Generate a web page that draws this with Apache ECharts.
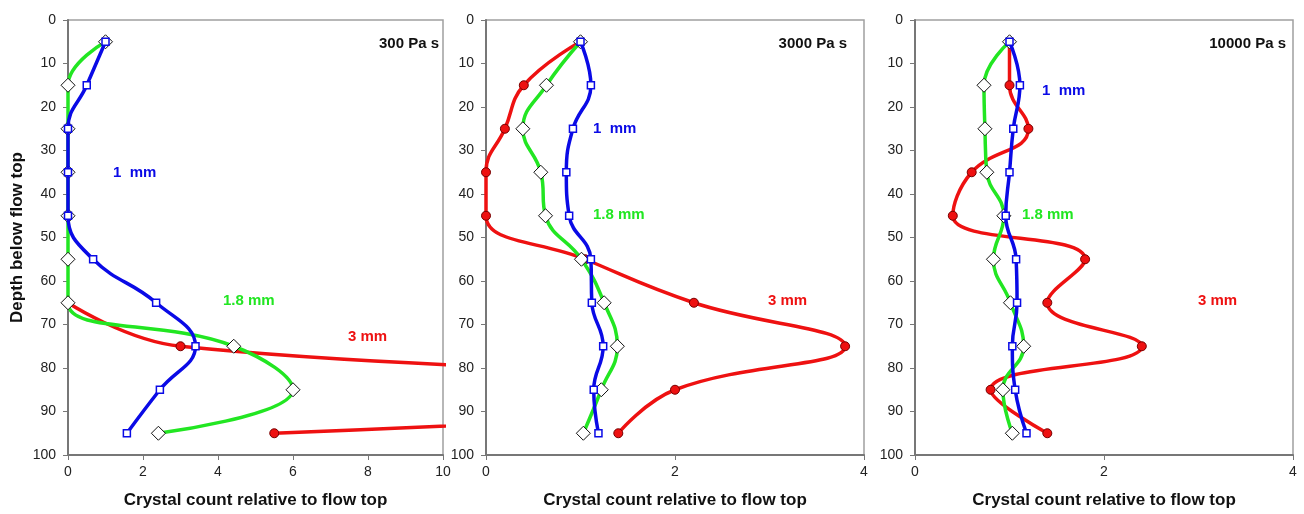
<!DOCTYPE html>
<html>
<head>
<meta charset="utf-8">
<script src="https://cdn.jsdelivr.net/npm/echarts@6/dist/echarts.min.js"></script>
<style>
html,body{margin:0;padding:0;background:#fff;}
#c{width:1304px;height:514px;}
</style>
</head>
<body>
<div id="c"></div>
<script>
// Depths (y) shared by all series
const depths = [5, 15, 25, 35, 45, 55, 65, 75, 85, 95];

// 300 Pa s panel
const p300_1mm  = [1.0, 0.5, 0, 0, 0, 0.67, 2.35, 3.4, 2.45, 1.57];
const p300_18mm = [1.0, 0, 0, 0, 0, 0, 0, 4.42, 6.0, 2.41];
const p300_3mm  = [null, null, null, null, null, null, 0, 3.0, 23, 5.5];

// 3000 Pa s panel
const p3000_1mm  = [1.0, 1.11, 0.92, 0.85, 0.88, 1.11, 1.12, 1.24, 1.14, 1.19];
const p3000_18mm = [1.0, 0.64, 0.39, 0.58, 0.63, 1.01, 1.25, 1.39, 1.22, 1.03];
const p3000_3mm  = [1.0, 0.40, 0.20, 0, 0, 1.05, 2.2, 3.8, 2.0, 1.40];

// 10000 Pa s panel
const p10000_1mm  = [1.0, 1.11, 1.04, 1.0, 0.96, 1.07, 1.08, 1.03, 1.06, 1.18];
const p10000_18mm = [1.0, 0.73, 0.74, 0.76, 0.94, 0.83, 1.01, 1.15, 0.93, 1.03];
const p10000_3mm  = [1.0, 1.0, 1.2, 0.6, 0.4, 1.8, 1.4, 2.4, 0.8, 1.4];

const panelTitles = ['300 Pa s', '3000 Pa s', '10000 Pa s'];
const xMaxes = [10, 4, 4];
const xInterval = 2;
const yMin = 0, yMax = 100, yInterval = 10;
const xAxisName = 'Crystal count relative to flow top';
const yAxisName = 'Depth below flow top';
const sizeLabels = ['1  mm', '1.8 mm', '3 mm'];

const panels = [
  [p300_1mm, p300_18mm, p300_3mm],
  [p3000_1mm, p3000_18mm, p3000_3mm],
  [p10000_1mm, p10000_18mm, p10000_3mm]
];

const BLUE = '#0a0ae6', GREEN = '#22e622', RED = '#ee1111';
const FONT = '"Liberation Sans", Arial, sans-serif';

function pairs(vals) {
  return vals.map((v, i) => (v === null ? null : [v, depths[i]])).filter(p => p !== null);
}

const grids = [
  {left: 68, top: 20, width: 375, height: 435},
  {left: 486, top: 20, width: 378, height: 435},
  {left: 915, top: 20, width: 378, height: 435}
].map(g => Object.assign(g, {show: true, borderColor: '#a0a0a0', borderWidth: 1.5}));

const xAxes = [], yAxes = [], series = [];
for (let p = 0; p < 3; p++) {
  xAxes.push({
    type: 'value', gridIndex: p, min: 0, max: xMaxes[p], interval: xInterval, position: 'bottom',
    axisLine: {show: true, onZero: false, lineStyle: {color: '#777', width: 2}},
    axisTick: {show: true, length: 5, inside: false, lineStyle: {color: '#777'}},
    splitLine: {show: false},
    axisLabel: {color: '#222', fontSize: 14, fontFamily: FONT, margin: 10, showMaxLabel: true},
    name: xAxisName, nameLocation: 'middle', nameGap: 37,
    nameTextStyle: {color: '#111', fontSize: 17, fontWeight: 'bold', fontFamily: FONT}
  });
  yAxes.push({
    type: 'value', gridIndex: p, min: yMin, max: yMax, interval: yInterval, inverse: true, position: 'left',
    axisLine: {show: true, onZero: false, lineStyle: {color: '#777', width: 2}},
    axisTick: {show: true, length: 5, inside: false, lineStyle: {color: '#777'}},
    splitLine: {show: false},
    axisLabel: {color: '#222', fontSize: 14, fontFamily: FONT, margin: 12},
    name: p === 0 ? yAxisName : '', nameLocation: 'middle', nameGap: 42, nameRotate: 90,
    nameTextStyle: {color: '#111', fontSize: 17, fontWeight: 'bold', fontFamily: FONT}
  });
  const [s1, s18, s3] = panels[p];
  series.push({
    type: 'line', xAxisIndex: p, yAxisIndex: p, data: pairs(s3), smooth: 0.45, clip: true,
    lineStyle: {color: RED, width: 3.5},
    symbol: 'circle', symbolSize: 9,
    itemStyle: {color: RED, borderColor: '#700', borderWidth: 1},
    z: 2
  });
  series.push({
    type: 'line', xAxisIndex: p, yAxisIndex: p, data: pairs(s18), smooth: 0.45, clip: true,
    lineStyle: {color: GREEN, width: 3.5},
    symbol: 'diamond', symbolSize: [14, 14],
    itemStyle: {color: '#fff', borderColor: '#111', borderWidth: 1},
    z: 3
  });
  series.push({
    type: 'line', xAxisIndex: p, yAxisIndex: p, data: pairs(s1), smooth: 0.45, clip: true,
    lineStyle: {color: BLUE, width: 3.5},
    symbol: 'rect', symbolSize: 7,
    itemStyle: {color: '#fff', borderColor: BLUE, borderWidth: 1.5},
    z: 4
  });
}

function txt(str, x, y, color, align) {
  return {
    type: 'text', x: x, y: y, z: 100,
    style: {text: str, fill: color, font: 'bold 15px ' + FONT, textAlign: align || 'left', textVerticalAlign: 'middle'}
  };
}

const graphics = [
  txt(panelTitles[0], 439, 44, '#111', 'right'),
  txt(panelTitles[1], 847, 44, '#111', 'right'),
  txt(panelTitles[2], 1286, 44, '#111', 'right'),
  txt(sizeLabels[0], 113, 173, BLUE),
  txt(sizeLabels[1], 223, 301, GREEN),
  txt(sizeLabels[2], 348, 337, RED),
  txt(sizeLabels[0], 593, 129, BLUE),
  txt(sizeLabels[1], 593, 215, GREEN),
  txt(sizeLabels[2], 768, 301, RED),
  txt(sizeLabels[0], 1042, 91, BLUE),
  txt(sizeLabels[1], 1022, 215, GREEN),
  txt(sizeLabels[2], 1198, 301, RED)
];

const chart = echarts.init(document.getElementById('c'), null, {renderer: 'canvas'});
chart.setOption({
  animation: false,
  backgroundColor: '#fff',
  textStyle: {fontFamily: FONT},
  grid: grids,
  xAxis: xAxes,
  yAxis: yAxes,
  series: series,
  graphic: graphics
});
</script>
</body>
</html>
